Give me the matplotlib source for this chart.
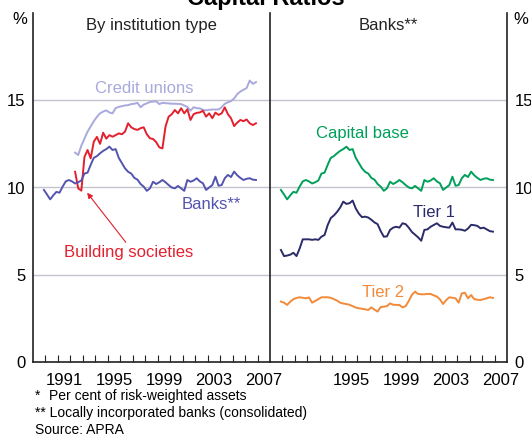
import numpy as np
import matplotlib
matplotlib.use("Agg")
import matplotlib.pyplot as plt

plt.rcParams['font.family'] = ['Liberation Sans', 'DejaVu Sans']

# quarterly data, per cent of risk-weighted assets
# banks capital base (same series in both panels)
banks = [9.86, 9.6, 9.32, 9.55, 9.75, 9.7, 10.05, 10.35, 10.43, 10.35,
         10.23, 10.3, 10.4, 10.8, 10.85, 11.3, 11.7, 11.8, 11.96, 12.1,
         12.2, 12.34, 12.15, 12.2, 11.7, 11.4, 11.1, 10.9, 10.8, 10.55,
         10.45, 10.2, 10.05, 9.81, 9.95, 10.33, 10.2, 10.3, 10.43, 10.3,
         10.14, 10.0, 9.95, 10.09, 9.95, 9.81, 10.43, 10.33, 10.4, 10.53,
         10.35, 10.24, 9.86, 10.0, 10.14, 10.62, 10.1, 10.14, 10.53, 10.72,
         10.6, 10.91, 10.7, 10.55, 10.43, 10.5, 10.53, 10.45, 10.43]
tier1 = [6.42, 6.07, 6.1, 6.15, 6.26, 6.07, 6.5, 7.03, 7.03, 7.03,
         7.0, 7.03, 7.0, 7.18, 7.28, 7.85, 8.25, 8.4, 8.6, 8.85,
         9.19, 9.06, 9.1, 9.25, 8.8, 8.5, 8.3, 8.33, 8.28, 8.15,
         8.0, 7.9, 7.5, 7.18, 7.2, 7.57, 7.7, 7.75, 7.7, 7.95,
         7.9, 7.7, 7.45, 7.3, 7.14, 6.95, 7.57, 7.6, 7.75, 7.85,
         7.95, 7.8, 7.75, 7.72, 7.7, 7.99, 7.6, 7.6, 7.58, 7.52,
         7.65, 7.86, 7.84, 7.8, 7.66, 7.7, 7.6, 7.5, 7.47]
tier2 = [3.46, 3.4, 3.27, 3.46, 3.6, 3.67, 3.71, 3.68, 3.65, 3.7,
         3.4, 3.5, 3.6, 3.71, 3.71, 3.71, 3.68, 3.6, 3.52, 3.4,
         3.35, 3.32, 3.28, 3.2, 3.12, 3.08, 3.05, 3.02, 2.98, 3.13,
         3.0, 2.89, 3.15, 3.17, 3.2, 3.36, 3.28, 3.27, 3.27, 3.13,
         3.2, 3.5, 3.85, 4.03, 3.9, 3.88, 3.88, 3.9, 3.9, 3.82,
         3.75, 3.59, 3.32, 3.55, 3.71, 3.68, 3.65, 3.4, 3.93, 3.97,
         3.65, 3.84, 3.6, 3.57, 3.55, 3.6, 3.65, 3.71, 3.67]
credit_unions = [12.0, 11.86, 12.4, 12.8, 13.2, 13.5, 13.8, 14.05, 14.25, 14.35,
                 14.42, 14.3, 14.25, 14.55, 14.62, 14.66, 14.7, 14.72, 14.78, 14.8,
                 14.85, 14.6, 14.75, 14.82, 14.9, 14.92, 14.94, 14.78, 14.85, 14.83,
                 14.82, 14.8, 14.8, 14.79, 14.78, 14.7, 14.62, 14.4, 14.6, 14.55,
                 14.53, 14.45, 14.42, 14.45, 14.47, 14.47, 14.47, 14.6, 14.8, 14.88,
                 14.95, 15.1, 15.35, 15.5, 15.6, 15.7, 16.13, 15.94, 16.04]
building_soc = [10.9, 9.95, 9.82, 11.75, 12.15, 11.67, 12.63, 12.9, 12.5, 13.14,
                12.8, 13.0, 12.91, 13.0, 13.1, 13.05, 13.2, 13.68, 13.45, 13.35,
                13.3, 13.4, 13.45, 13.05, 12.82, 12.78, 12.6, 12.3, 12.24, 13.5,
                14.06, 14.2, 14.44, 14.25, 14.54, 14.25, 14.48, 13.87, 14.2, 14.28,
                14.3, 14.4, 14.06, 14.25, 13.97, 14.29, 14.16, 14.25, 14.59, 14.2,
                13.97, 13.52, 13.72, 13.87, 13.8, 13.9, 13.68, 13.58, 13.68]

t_bank = 1989.875 + 0.25 * np.arange(len(banks))
t_nonbank = 1992.375 + 0.25 * np.arange(len(credit_unions))

year_ticks = np.arange(1990, 2008)
left_years = ['1991', '1995', '1999', '2003', '2007']
right_years = ['1995', '1999', '2003', '2007']

c_banks = '#5353b0'
c_credit = '#a9a9dd'
c_build = '#e2202e'
c_capital = '#00a05a'
c_tier1 = '#2b2b69'
c_tier2 = '#f28a3a'
c_grid = '#c4c4cc'

fig = plt.figure(figsize=(5.31, 4.36), dpi=100)
W, H = 531.0, 436.0
left, mid, right = 33 / W, 270 / W, 507 / W
bottom, top = 1 - 362 / H, 1 - 13 / H
ax1 = fig.add_axes([left, bottom, mid - left, top - bottom])
ax2 = fig.add_axes([mid, bottom, right - mid, top - bottom])

for ax, labels in ((ax1, left_years), (ax2, right_years)):
    ax.set_xlim(1989, 2008)
    ax.set_ylim(0, 20)
    ax.set_yticks([0, 5, 10, 15])
    ax.grid(axis='y', color=c_grid, lw=1.0)
    ax.set_axisbelow(True)
    ax.set_xticks(year_ticks)
    ax.tick_params(axis='x', which='major', direction='in', length=5,
                   width=0.8, labelbottom=False, color='#222222')
    ax.set_xticks([int(y) + 0.5 for y in labels], minor=True)
    ax.set_xticklabels(labels, minor=True)
    ax.tick_params(axis='x', which='minor', length=0, pad=8, labelsize=12)
    ax.tick_params(axis='y', length=0, labelsize=12, pad=5.5)
    ax.spines['top'].set_visible(False)
    for s in ('left', 'right', 'bottom'):
        ax.spines[s].set_linewidth(1.2)
        ax.spines[s].set_color('#222222')
ax1.spines['right'].set_visible(False)
ax2.yaxis.tick_right()
ax2.tick_params(axis='y', length=0, labelsize=12, pad=5.5)

# left panel
ax1.plot(t_nonbank, credit_unions, color=c_credit, lw=1.4)
ax1.plot(t_nonbank, building_soc, color=c_build, lw=1.4)
ax1.plot(t_bank, banks, color=c_banks, lw=1.4)
ax1.text(1997.9, 15.7, 'Credit unions', color=c_credit, fontsize=12,
         ha='center', va='center')
ax1.text(2003.3, 9.05, 'Banks**', color=c_banks, fontsize=12,
         ha='center', va='center')
ax1.text(1996.7, 6.3, 'Building societies', color=c_build, fontsize=12,
         ha='center', va='center')
ax1.annotate('', xy=(1993.34, 9.7), xytext=(1996.44, 6.86),
             arrowprops=dict(arrowstyle='-|>', color=c_build, lw=0.8,
                             mutation_scale=8, shrinkA=0, shrinkB=0))
ax1.text(0.5, 0.9656, 'By institution type', transform=ax1.transAxes,
         fontsize=12, ha='center', va='center', color='#222222')

# right panel
ax2.plot(t_bank, banks, color=c_capital, lw=1.4)
ax2.plot(t_bank, tier1, color=c_tier1, lw=1.4)
ax2.plot(t_bank, tier2, color=c_tier2, lw=1.4)
ax2.text(1996.4, 13.12, 'Capital base', color=c_capital, fontsize=12,
         ha='center', va='center')
ax2.text(2002.15, 8.54, 'Tier 1', color=c_tier1, fontsize=12,
         ha='center', va='center')
ax2.text(1998.06, 4.01, 'Tier 2', color=c_tier2, fontsize=12,
         ha='center', va='center')
ax2.text(0.5, 0.9656, 'Banks**', transform=ax2.transAxes,
         fontsize=12, ha='center', va='center', color='#222222')

fig.text(20 / W, 1 - 19 / H, '%', fontsize=12, ha='center', va='center')
fig.text(521 / W, 1 - 19 / H, '%', fontsize=12, ha='center', va='center')
fig.text(270 / W, 1 - 4.5 / H, 'Capital Ratios*', fontsize=17, fontweight='bold',
         ha='center', va='baseline')

# footnotes
fig.text(35 / W, 1 - 400 / H, '*', fontsize=10, va='baseline')
fig.text(49 / W, 1 - 400 / H, 'Per cent of risk-weighted assets', fontsize=10, va='baseline')
fig.text(35 / W, 1 - 417 / H, '** Locally incorporated banks (consolidated)', fontsize=10, va='baseline')
fig.text(35 / W, 1 - 434 / H, 'Source: APRA', fontsize=10, va='baseline')

fig.savefig('out.png', dpi=100)
